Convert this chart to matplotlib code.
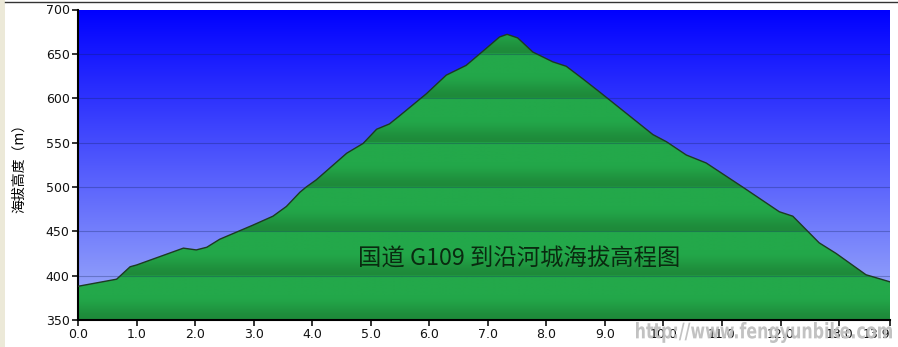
import matplotlib.pyplot as plt
import numpy as np
from matplotlib.patches import Rectangle, PathPatch
from matplotlib.textpath import TextPath
from matplotlib.font_manager import FontProperties
from matplotlib.transforms import Affine2D, IdentityTransform

plt.rcParams['font.family'] = ['DejaVu Sans', 'Noto Sans CJK SC']

# ---- data ----
dist_km = [0.0, 0.66, 0.89, 1.0, 1.8, 2.02, 2.2, 2.42, 2.99, 3.33, 3.56, 3.79,
           3.9, 4.07, 4.59, 4.87, 5.1, 5.32, 5.49, 5.95, 6.29, 6.63, 6.97, 7.2,
           7.33, 7.51, 7.77, 8.11, 8.34, 8.62, 8.91, 9.82, 10.05, 10.39, 10.73,
           11.35, 11.98, 12.21, 12.66, 12.95, 13.46, 13.87]
elev_m = [388, 396, 410, 412, 431, 429, 432, 441, 457, 467, 478, 494,
          500, 508, 538, 549, 565, 571, 580, 605, 626, 637, 656, 669,
          672, 668, 652, 641, 636, 622, 607, 559, 551, 536, 527,
          500, 472, 467, 437, 425, 401, 393]

x_ticks = [0, 1, 2, 3, 4, 5, 6, 7, 8, 9, 10, 11, 12, 13, 13.87]
x_labels = ['0.0', '1.0', '2.0', '3.0', '4.0', '5.0', '6.0', '7.0', '8.0',
            '9.0', '10.0', '11.0', '12.0', '13.0', '13.9']
y_ticks = [350, 400, 450, 500, 550, 600, 650, 700]

title_txt = '国道 G109 到沿河城海拔高程图'
ylabel_txt = '海拔高度（m）'
watermark = 'http://www.fengyunbike.com'

xmax = dist_km[-1]
ymin, ymax = 350, 700

fig = plt.figure(figsize=(8.98, 3.47), dpi=100, facecolor='white')
# beige strip at the left edge and a dark line at the top, like the screenshot
fig.patches.append(Rectangle((0, 0), 5 / 898, 1, transform=fig.transFigure,
                             facecolor='#ece9d8', edgecolor='none'))
fig.add_artist(plt.Line2D([5 / 898, 1], [1 - 2 / 347, 1 - 2 / 347],
                          transform=fig.transFigure, color='#333333', lw=1))

ax = fig.add_axes([78 / 898, 1 - 320 / 347, (890 - 78) / 898, (320 - 9.5) / 347])

# sky gradient: pure blue at top -> pale blue at bottom
n = 300
t = np.linspace(0, 1, n)[:, None]  # 0 bottom, 1 top
top_c = np.array([0, 0, 255]) / 255
bot_c = np.array([162, 178, 250]) / 255
sky = bot_c + (top_c - bot_c) * t
sky = np.repeat(sky[:, None, :], 2, axis=1)
ax.imshow(sky, extent=[0, xmax, ymin, ymax], origin='lower', aspect='auto',
          interpolation='bilinear', zorder=0)

# green with banding between the 50 m gridlines
ys = np.linspace(ymin, ymax, 700)
f = ((ys - ymin) % 50) / 50
dark = np.array([30, 138, 58]) / 255
light = np.array([35, 168, 74]) / 255
w = np.clip(f / 0.55, 0, 1)
w = w * w * (3 - 2 * w)
green = dark + (light - dark) * w[:, None]
green = np.repeat(green[:, None, :], 2, axis=1)
im = ax.imshow(green, extent=[0, xmax, ymin, ymax], origin='lower',
               aspect='auto', interpolation='bilinear', zorder=1)
poly = ax.fill_between(dist_km, elev_m, ymin, facecolor='none', edgecolor='none')
im.set_clip_path(poly.get_paths()[0], transform=ax.transData)
ax.plot(dist_km, elev_m, color='#1d3a22', lw=1, zorder=3)

for yv in y_ticks[1:-1]:
    ax.axhline(yv, color='#10205a', lw=0.8, alpha=0.3, zorder=2)

ax.set_xlim(0, xmax)
ax.set_ylim(ymin, ymax)
ax.set_xticks(x_ticks)
ax.set_xticklabels(x_labels)
ax.get_xticklabels()[-1].set_horizontalalignment('right')
ax.set_yticks(y_ticks)
ax.tick_params(direction='out', length=4, width=1.2, labelsize=9,
               colors='#111111', pad=2)
for s in ['top', 'right']:
    ax.spines[s].set_visible(False)
ax.spines['left'].set_linewidth(1.5)
ax.spines['bottom'].set_linewidth(1.5)

ax.set_ylabel(ylabel_txt, fontsize=10, family=['Noto Sans CJK SC', 'DejaVu Sans'],
              labelpad=14)
ax.text(7.53, 419, title_txt, fontsize=16.8, ha='center', va='center',
        color='#0a2a10', family=['Noto Sans CJK SC', 'DejaVu Sans'], zorder=4)

# condensed watermark over the bottom-right corner (squeezed text path, in pixels)
tp = TextPath((0, 0), watermark, size=20,
              prop=FontProperties(family='DejaVu Sans', weight='bold'))
bb = tp.get_extents()
sx = (892 - 636) / bb.width
sy = (25 - 4) / bb.height
tr = Affine2D().translate(-bb.x0, -bb.y0).scale(sx, sy).translate(636, 4)
wm = PathPatch(tr.transform_path(tp), transform=IdentityTransform(),
               facecolor='#bdbdbd', edgecolor='none', alpha=0.92, zorder=10)
fig.add_artist(wm)

fig.savefig('out.png', dpi=100, facecolor=fig.get_facecolor())
